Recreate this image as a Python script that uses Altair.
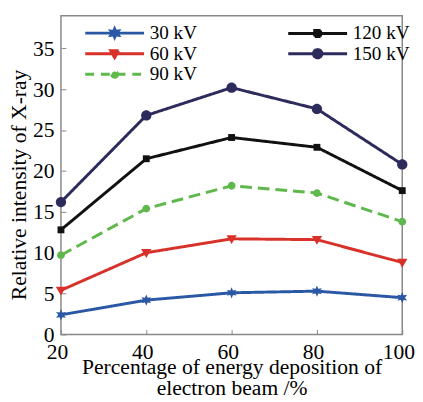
import math
import altair as alt
import pandas as pd

# ---- data ----
x_pct = [20, 40, 60, 80, 100]
series = ["30 kV", "60 kV", "90 kV", "120 kV", "150 kV"]
y_30 = [2.4, 4.2, 5.1, 5.3, 4.5]
y_60 = [5.4, 10.0, 11.7, 11.6, 8.8]
y_90 = [9.7, 15.4, 18.2, 17.3, 13.8]
y_120 = [12.8, 21.5, 24.1, 22.9, 17.6]
y_150 = [16.2, 26.8, 30.2, 27.6, 20.8]
colors = ["#2b58a5", "#d8312a", "#5fb84c", "#111111", "#2c2b5c"]
x_ticks = [20, 40, 60, 80, 100]
y_ticks = [0, 5, 10, 15, 20, 25, 30, 35]

values = {"30 kV": y_30, "60 kV": y_60, "90 kV": y_90, "120 kV": y_120, "150 kV": y_150}
rows = []
for s in series:
    for xv, yv in zip(x_pct, values[s]):
        rows.append({"x": xv, "y": yv, "series": s})
df = pd.DataFrame(rows)

FONT = "Liberation Serif"


# ---- marker shapes (custom SVG paths, -1..1 unit system) ----
def circle(r):
    return f"M{r},0A{r},{r},0,1,1,{-r},0A{r},{r},0,1,1,{r},0Z"


def square(h):
    return f"M{-h},{-h}H{h}V{h}H{-h}Z"


def tri_down(w, top, bot):
    return f"M{-w},{-top}L{w},{-top}L0,{bot}Z"


def star(R, ri, n=6):
    pts = []
    for i in range(2 * n):
        rad = R if i % 2 == 0 else ri
        a = -math.pi / 2 + i * math.pi / n
        pts.append(f"{rad * math.cos(a):.3f},{rad * math.sin(a):.3f}")
    return "M" + "L".join(pts) + "Z"


plot_shapes = [
    star(1.15, 0.55),
    tri_down(1.05, 0.75, 1.05),
    circle(0.8),
    square(0.7),
    circle(1.05),
]
LINE = "M-6,0H6"
legend_shapes = [
    LINE + star(0.85, 0.42),
    LINE + tri_down(0.8, 0.6, 0.8),
    LINE + circle(0.6),
    LINE + square(0.6),
    LINE + circle(0.85),
]
plot_dash = [[1, 0], [1, 0], [12, 6], [1, 0], [1, 0]]
legend_dash = [[1, 0], [1, 0], [9, 7], [1, 0], [1, 0]]

x_axis = alt.Axis(
    values=x_ticks, domain=False, grid=False, ticks=True, tickSize=5,
    tickColor="#888888", tickWidth=1, offset=-5,
    labelFont=FONT, labelFontSize=22, labelColor="black", labelPadding=8,
    labelFlush=False, labelOffset=-4,
    title=["Percentage of energy deposition of", "electron beam /%"],
    titleFont=FONT, titleFontSize=22, titleFontWeight="normal", titleColor="black",
    titleBaseline="alphabetic", titleY=45, titleLineHeight=21,
)
y_axis = alt.Axis(
    values=y_ticks, domain=False, grid=False, ticks=True, tickSize=5,
    tickColor="#888888", tickWidth=1, offset=-5,
    labelFont=FONT, labelFontSize=22, labelColor="black", labelPadding=7,
    labelFlush=False,
    title="Relative intensity of X-ray",
    titleFont=FONT, titleFontSize=22, titleFontWeight="normal", titleColor="black",
    titleBaseline="alphabetic", titleX=-41, titleY=172, titleAngle=270,
)

xenc = alt.X("x:Q", scale=alt.Scale(domain=[20, 100], nice=False, zero=False), axis=x_axis)
yenc = alt.Y("y:Q", scale=alt.Scale(domain=[0, 39], nice=False), axis=y_axis)

color_scale = alt.Scale(domain=series, range=colors)

lines = alt.Chart(df).mark_line(strokeWidth=3).encode(
    x=xenc, y=yenc,
    color=alt.Color("series:N", scale=color_scale, legend=None),
    strokeDash=alt.StrokeDash("series:N", scale=alt.Scale(domain=series, range=plot_dash), legend=None),
    detail="series:N",
)

points = alt.Chart(df).mark_point(filled=True, opacity=1, size=100, strokeWidth=0).encode(
    x=xenc, y=yenc,
    color=alt.Color("series:N", scale=color_scale, legend=None),
    shape=alt.Shape("series:N", scale=alt.Scale(domain=series, range=plot_shapes), legend=None),
)

leg = alt.Legend(
    title=None, orient="none", legendX=45, legendY=8, columns=2,
    columnPadding=86, rowPadding=0, padding=0,
    labelFont=FONT, labelFontSize=19.5, labelColor="black", labelOffset=26,
    symbolSize=100, symbolStrokeWidth=3,
)

legend_layer = alt.Chart(df).transform_filter("false").mark_point(
    filled=True, opacity=1, size=100, strokeWidth=3
).encode(
    fill=alt.Fill("series:N", scale=alt.Scale(domain=series, range=colors), legend=leg),
    stroke=alt.Stroke("series:N", scale=alt.Scale(domain=series, range=colors), legend=leg),
    shape=alt.Shape("series:N", scale=alt.Scale(domain=series, range=legend_shapes), legend=leg),
    strokeDash=alt.StrokeDash("series:N", scale=alt.Scale(domain=series, range=legend_dash), legend=leg),
)

chart = alt.layer(lines, points, legend_layer).resolve_scale(
    color="independent", shape="independent", strokeDash="independent",
    fill="independent", stroke="independent",
).properties(
    width=348, height=325,
    padding={"left": 54, "top": 4, "right": 13, "bottom": 65},
    autosize=alt.AutoSizeParams(type="none"),
    background="white",
).configure_view(stroke="#888888", strokeWidth=1.5)

chart.save("out.html", embed_options={"renderer": "svg", "actions": False})
